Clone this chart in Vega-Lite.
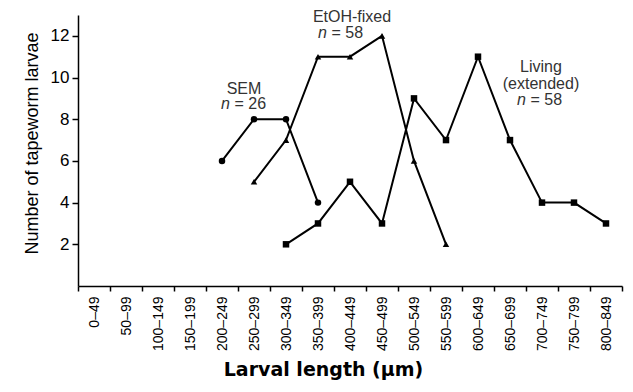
{
  "$schema": "https://vega.github.io/schema/vega-lite/v6.json",
  "width": 544,
  "height": 271,
  "autosize": {"type": "none"},
  "padding": {"left": 78, "top": 15, "right": 11, "bottom": 106},
  "background": "white",
  "config": {
    "view": {"stroke": null},
    "font": "Liberation Sans",
    "axis": {"domainColor": "black", "tickColor": "black", "labelColor": "black", "titleColor": "black", "grid": false, "domainWidth": 1.5, "tickWidth": 1.5}
  },
  "datasets": {
    "counts": [
      {"series": "SEM", "len": "200–249", "n": 6},
      {"series": "SEM", "len": "250–299", "n": 8},
      {"series": "SEM", "len": "300–349", "n": 8},
      {"series": "SEM", "len": "350–399", "n": 4},
      {"series": "EtOH", "len": "250–299", "n": 5},
      {"series": "EtOH", "len": "300–349", "n": 7},
      {"series": "EtOH", "len": "350–399", "n": 11},
      {"series": "EtOH", "len": "400–449", "n": 11},
      {"series": "EtOH", "len": "450–499", "n": 12},
      {"series": "EtOH", "len": "500–549", "n": 6},
      {"series": "EtOH", "len": "550–599", "n": 2},
      {"series": "Living", "len": "300–349", "n": 2},
      {"series": "Living", "len": "350–399", "n": 3},
      {"series": "Living", "len": "400–449", "n": 5},
      {"series": "Living", "len": "450–499", "n": 3},
      {"series": "Living", "len": "500–549", "n": 9},
      {"series": "Living", "len": "550–599", "n": 7},
      {"series": "Living", "len": "600–649", "n": 11},
      {"series": "Living", "len": "650–699", "n": 7},
      {"series": "Living", "len": "700–749", "n": 4},
      {"series": "Living", "len": "750–799", "n": 4},
      {"series": "Living", "len": "800–849", "n": 3}
    ]
  },
  "encoding": {
    "x": {
      "field": "len", "type": "nominal",
      "scale": {"domain": ["0–49","50–99","100–149","150–199","200–249","250–299","300–349","350–399","400–449","450–499","500–549","550–599","600–649","650–699","700–749","750–799","800–849"], "paddingInner": 0, "paddingOuter": 0},
      "axis": {"tickBand": "extent", "labelAngle": -90, "labelAlign": "right", "labelBaseline": "middle", "labelFontSize": 14, "labelPadding": 5, "tickSize": 5, "title": "Larval length  (µm)", "titleFont": "DejaVu Sans", "titleFontWeight": "bold", "titleFontSize": 19, "titlePadding": 10, "titleX": 245}
    },
    "y": {
      "field": "n", "type": "quantitative",
      "scale": {"domain": [0, 13], "nice": false},
      "axis": {"values": [2,4,6,8,10,12], "labelFontSize": 17, "labelPadding": 3, "tickSize": 6, "title": "Number of tapeworm larvae", "titleFontSize": 18, "titleFontWeight": "normal", "titlePadding": 9, "titleY": 128}
    }
  },
  "layer": [
    {
      "data": {"name": "counts"},
      "mark": {"type": "line", "color": "black", "strokeWidth": 2},
      "encoding": {"detail": {"field": "series"}}
    },
    {
      "data": {"name": "counts"},
      "mark": {"type": "point", "filled": true, "color": "black", "opacity": 1, "size": 42},
      "encoding": {"shape": {"field": "series", "scale": {"domain": ["SEM","EtOH","Living"], "range": ["circle","triangle-up","square"]}, "legend": null}}
    },
    {
      "data": {"values": [{"t": "SEM", "len": "250–299", "n": 9.21}]},
      "mark": {"type": "text", "fontSize": 16, "color": "#333", "align": "center", "baseline": "alphabetic", "dx": -10},
      "encoding": {"text": {"field": "t"}}
    },
    {
      "data": {"values": [{"t": "n", "len": "200–249", "n": 8.49}]},
      "mark": {"type": "text", "fontSize": 16, "fontStyle": "italic", "color": "#333", "align": "left", "baseline": "alphabetic", "dx": -1},
      "encoding": {"text": {"field": "t"}}
    },
    {
      "data": {"values": [{"t": "= 26", "len": "200–249", "n": 8.49}]},
      "mark": {"type": "text", "fontSize": 16, "color": "#333", "align": "left", "baseline": "alphabetic", "dx": 12.5},
      "encoding": {"text": {"field": "t"}}
    },
    {
      "data": {"values": [{"t": "EtOH-fixed", "len": "400–449", "n": 12.68}]},
      "mark": {"type": "text", "fontSize": 16, "color": "#333", "align": "center", "baseline": "alphabetic", "dx": 2},
      "encoding": {"text": {"field": "t"}}
    },
    {
      "data": {"values": [{"t": "n", "len": "350–399", "n": 11.88}]},
      "mark": {"type": "text", "fontSize": 16, "fontStyle": "italic", "color": "#333", "align": "left", "baseline": "alphabetic", "dx": 0},
      "encoding": {"text": {"field": "t"}}
    },
    {
      "data": {"values": [{"t": "= 58", "len": "350–399", "n": 11.88}]},
      "mark": {"type": "text", "fontSize": 16, "color": "#333", "align": "left", "baseline": "alphabetic", "dx": 13.5},
      "encoding": {"text": {"field": "t"}}
    },
    {
      "data": {"values": [{"t": "Living", "len": "700–749", "n": 10.28}, {"t": "(extended)", "len": "700–749", "n": 9.45}]},
      "mark": {"type": "text", "fontSize": 16, "color": "#333", "align": "center", "baseline": "alphabetic", "dx": -1},
      "encoding": {"text": {"field": "t"}}
    },
    {
      "data": {"values": [{"t": "n", "len": "650–699", "n": 8.68}]},
      "mark": {"type": "text", "fontSize": 16, "fontStyle": "italic", "color": "#333", "align": "left", "baseline": "alphabetic", "dx": 7},
      "encoding": {"text": {"field": "t"}}
    },
    {
      "data": {"values": [{"t": "= 58", "len": "650–699", "n": 8.68}]},
      "mark": {"type": "text", "fontSize": 16, "color": "#333", "align": "left", "baseline": "alphabetic", "dx": 20.5},
      "encoding": {"text": {"field": "t"}}
    }
  ]
}
